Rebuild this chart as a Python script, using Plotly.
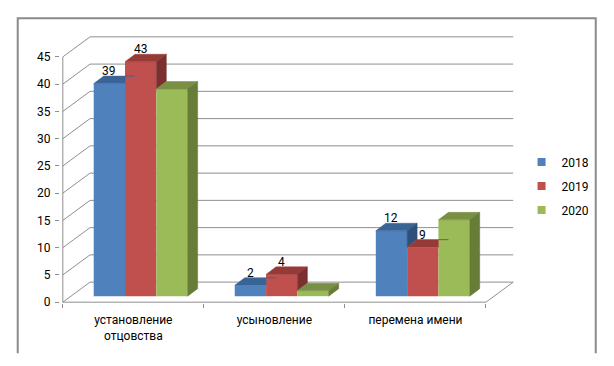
import plotly.graph_objects as go

# ---------------- data ----------------
categories = ["установление<br>отцовства", "усыновление", "перемена имени"]
years = ["2018", "2019", "2020"]
values_2018 = [39, 2, 12]
values_2019 = [43, 4, 9]
values_2020 = [38, 1, 14]
labelled = [True, True, False]          # data labels shown for 2018 and 2019
y_ticks = [0, 5, 10, 15, 20, 25, 30, 35, 40, 45]

series = [values_2018, values_2019, values_2020]
front_colors = ["#4F81BD", "#C0504D", "#9BBB59"]
top_colors = ["#3A6396", "#963A38", "#788F44"]
side_colors = ["#2F507A", "#7C302E", "#677C37"]

# ---------------- pseudo-3D geometry (axis units) ----------------
DX, DY = 0.193, 3.68    # depth of floor / side wall
SX, SY = 0.052, 1.1     # shift of bar front faces into the depth
BX, BY = 0.0708, 1.38   # depth of each bar
BW = 0.222              # bar width

FONT = "Roboto, Arial, sans-serif"
FS = 12
GRID = "#8f8f8f"

n = len(categories)
xs = list(range(n))
fig = go.Figure()

# front faces (real bars)
for k, vals in enumerate(series):
    fig.add_trace(go.Bar(
        x=[i + SX for i in xs], y=vals, base=[SY] * n,
        width=BW, offset=(k - 1.5) * BW,
        marker=dict(color=front_colors[k], line=dict(width=0)),
        name=years[k], showlegend=False, hoverinfo="skip"))

# top and side faces, derived from the same values
for k, vals in enumerate(series):
    tx, ty, sx, sy = [], [], [], []
    for i in xs:
        x0 = i + SX + (k - 1.5) * BW
        x1 = x0 + BW
        t = SY + vals[i]
        tn = SY + series[k + 1][i] if k + 1 < len(series) else None
        pts = [(x0, t), (x1, t)]
        if tn is not None and tn > t:
            c = min(tn, t + BY)
            xe = x1 + BX * (c - t) / BY
            pts += [(x1, c), (xe, c)]
        pts += [(x1 + BX, t + BY), (x0 + BX, t + BY), (x0, t)]
        tx += [p[0] for p in pts] + [None]
        ty += [p[1] for p in pts] + [None]
        yb = SY if tn is None else max(tn, SY)
        if t > yb:
            spts = [(x1, yb), (x1, t), (x1 + BX, t + BY), (x1 + BX, yb + BY), (x1, yb)]
            sx += [p[0] for p in spts] + [None]
            sy += [p[1] for p in spts] + [None]
    fig.add_trace(go.Scatter(x=tx, y=ty, mode="lines", fill="toself",
                             fillcolor=top_colors[k],
                             line=dict(color=top_colors[k], width=0.5),
                             showlegend=False, hoverinfo="skip"))
    if sx:
        fig.add_trace(go.Scatter(x=sx, y=sy, mode="lines", fill="toself",
                                 fillcolor=side_colors[k],
                                 line=dict(color=side_colors[k], width=0.5),
                                 showlegend=False, hoverinfo="skip"))

# legend entries
for k in range(len(series)):
    fig.add_trace(go.Scatter(x=[None], y=[None], mode="markers", name=years[k],
                             legendgroup=years[k],
                             marker=dict(symbol="square", size=8, color=front_colors[k])))

# data labels (2018, 2019)
annotations = []
for k, vals in enumerate(series):
    if not labelled[k]:
        continue
    for i in xs:
        xc = i + SX + (k - 1.5) * BW + BW / 2
        annotations.append(dict(x=xc, y=SY + vals[i] + BY, text=str(vals[i]),
                                showarrow=False, yanchor="middle", yshift=5,
                                font=dict(family=FONT, size=FS, color="#000000")))

# grid: back wall, side wall, floor, front axes
shapes = []
x_left, x_right = -0.5, n - 0.5
for v in y_ticks:
    shapes.append(dict(type="line", xref="x", yref="y", layer="below",
                       x0=x_left, y0=v, x1=x_left + DX, y1=v + DY,
                       line=dict(color=GRID, width=1)))
    shapes.append(dict(type="line", xref="x", yref="y", layer="below",
                       x0=x_left + DX, y0=v + DY, x1=x_right + DX, y1=v + DY,
                       line=dict(color=GRID, width=1)))
shapes.append(dict(type="line", xref="x", yref="y", layer="below",
                   x0=x_left, y0=0, x1=x_left, y1=y_ticks[-1],
                   line=dict(color=GRID, width=1)))
shapes.append(dict(type="line", xref="x", yref="y", layer="below",
                   x0=x_left, y0=0, x1=x_right, y1=0,
                   line=dict(color=GRID, width=1)))
shapes.append(dict(type="line", xref="x", yref="y", layer="below",
                   x0=x_right, y0=0, x1=x_right + DX, y1=DY,
                   line=dict(color=GRID, width=1)))
# chart border (bottom edge cropped off in the original)
shapes.append(dict(type="path", xref="paper", yref="paper",
                   path="M -0.0925,-0.187 L -0.0925,1.0584 L 1.1723,1.0584 L 1.1723,-0.187",
                   line=dict(color="#8a8a8a", width=2)))

fig.update_layout(
    width=614, height=366,
    margin=dict(l=60, r=96.5, t=34, b=63.2, autoexpand=False),
    paper_bgcolor="white", plot_bgcolor="white",
    barmode="overlay",
    font=dict(family=FONT, size=FS, color="#000000"),
    shapes=shapes, annotations=annotations,
    legend=dict(x=1.01, xanchor="left", y=0.4345, yanchor="middle",
                traceorder="grouped", tracegroupgap=5,
                font=dict(family=FONT, size=FS, color="#000000"),
                bgcolor="rgba(0,0,0,0)", itemwidth=30),
    xaxis=dict(range=[-0.52, 2.72], tickvals=xs, ticktext=categories,
               ticks="", showgrid=False, zeroline=False, showline=False,
               ticklabelstandoff=8,
               minor=dict(tickmode="array", tickvals=[-0.5, 0.5, 1.5, 2.5],
                          ticks="outside", ticklen=4, tickcolor=GRID, showgrid=False)),
    yaxis=dict(range=[-0.15, 49.2], tickvals=y_ticks, ticks="outside", ticklen=4,
               tickcolor=GRID, showgrid=False, zeroline=False, showline=False,
               ticklabelstandoff=2),
)

fig.write_html("out.html", config={"displayModeBar": False},
               post_script="document.body.style.margin='0px';")
